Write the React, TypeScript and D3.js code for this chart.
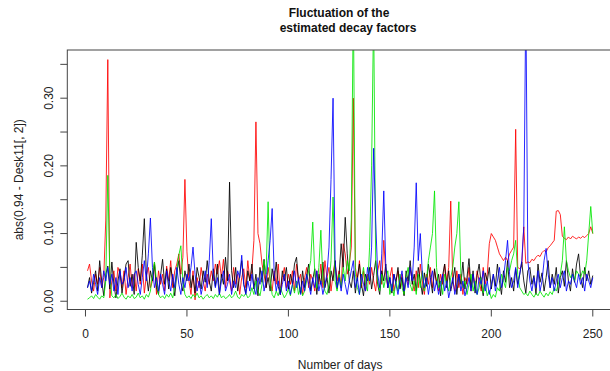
import React from 'react';
import * as d3 from 'd3';

const W = 610;
const H = 371;
// plot region (the right edge of the box sits outside the window)
const plot = { left: 67.3, top: 50, right: 613, bottom: 309.5 };

// values, day 1..250
const redVals = [
  0.045, 0.055, 0.03, 0.015, 0.04, 0.025, 0.05, 0.02, 0.035, 0.12,
  0.357, 0.005, 0.03, 0.045, 0.015, 0.05, 0.04, 0.02, 0.045, 0.01,
  0.035, 0.055, 0.02, 0.04, 0.015, 0.048, 0.025, 0.055, 0.012, 0.038,
  0.05, 0.02, 0.03, 0.058, 0.01, 0.045, 0.025, 0.04, 0.015, 0.052,
  0.03, 0.06, 0.02, 0.045, 0.055, 0.07, 0.04, 0.065, 0.18, 0.073,
  0.03, 0.01, 0.045, 0.002, 0.035, 0.02, 0.05, 0.03, 0.015, 0.04,
  0.025, 0.045, 0.03, 0.055, 0.04, 0.06, 0.035, 0.062, 0.02, 0.045,
  0.03, 0.015, 0.05, 0.025, 0.04, 0.01, 0.035, 0.048, 0.02, 0.06,
  0.03, 0.045, 0.09, 0.265, 0.1, 0.085, 0.055, 0.04, 0.02, 0.05,
  0.03, 0.015, 0.045, 0.025, 0.055, 0.01, 0.035, 0.05, 0.02, 0.04,
  0.025, 0.045, 0.015, 0.055, 0.03, 0.04, 0.01, 0.035, 0.05, 0.02,
  0.04, 0.03, 0.015, 0.045, 0.025, 0.055, 0.02, 0.06, 0.035, 0.05,
  0.015, 0.04, 0.06, 0.03, 0.045, 0.02, 0.085, 0.07, 0.04, 0.055,
  0.08, 0.3, 0.05, 0.03, 0.06, 0.02, 0.045, 0.015, 0.04, 0.025,
  0.05, 0.03, 0.015, 0.045, 0.06, 0.025, 0.09, 0.04, 0.02, 0.035,
  0.05, 0.015, 0.03, 0.045, 0.02, 0.04, 0.01, 0.035, 0.025, 0.05,
  0.03, 0.015, 0.045, 0.02, 0.055, 0.03, 0.01, 0.04, 0.025, 0.05,
  0.02, 0.045, 0.03, 0.015, 0.04, 0.025, 0.055, 0.03, 0.05, 0.148,
  0.03, 0.015, 0.045, 0.02, 0.04, 0.01, 0.035, 0.025, 0.05, 0.015,
  0.04, 0.02, 0.045, 0.03, 0.015, 0.05, 0.025, 0.04, 0.085, 0.1,
  0.095, 0.09, 0.08, 0.07, 0.065, 0.06, 0.065, 0.06, 0.07, 0.075,
  0.08, 0.254, 0.05, 0.048, 0.052, 0.11, 0.056, 0.058, 0.057, 0.062,
  0.06, 0.065, 0.068, 0.066, 0.072, 0.075, 0.073, 0.079, 0.082, 0.086,
  0.09, 0.133, 0.134, 0.128, 0.096, 0.093, 0.091, 0.095, 0.092, 0.096,
  0.094, 0.092, 0.095, 0.093, 0.096, 0.094, 0.097, 0.1, 0.11, 0.1,
];

const blackVals = [
  0.02, 0.035, 0.012, 0.028, 0.045, 0.015, 0.06, 0.03, 0.008, 0.04,
  0.052, 0.018, 0.058, 0.025, 0.005, 0.03, 0.048, 0.012, 0.035, 0.055,
  0.06, 0.022, 0.04, 0.01, 0.087, 0.05, 0.03, 0.068, 0.122, 0.04,
  0.015, 0.045, 0.03, 0.055, 0.02, 0.01, 0.038, 0.062, 0.025, 0.048,
  0.018, 0.05, 0.032, 0.008, 0.042, 0.06, 0.028, 0.015, 0.045, 0.03,
  0.055, 0.02, 0.038, 0.012, 0.05, 0.035, 0.018, 0.045, 0.028, 0.06,
  0.03, 0.015, 0.048, 0.022, 0.055, 0.01, 0.04, 0.025, 0.065, 0.03,
  0.176, 0.045, 0.02, 0.05, 0.015, 0.038, 0.06, 0.025, 0.012, 0.045,
  0.03, 0.055, 0.018, 0.04, 0.008, 0.05, 0.028, 0.062, 0.02, 0.035,
  0.015, 0.048, 0.03, 0.058, 0.022, 0.01, 0.045, 0.03, 0.05, 0.018,
  0.04, 0.025, 0.055, 0.065, 0.03, 0.012, 0.045, 0.02, 0.038, 0.055,
  0.015, 0.032, 0.048, 0.01, 0.04, 0.025, 0.058, 0.02, 0.035, 0.012,
  0.045, 0.03, 0.06, 0.018, 0.04, 0.085, 0.05, 0.124, 0.07, 0.03,
  0.02, 0.045, 0.012, 0.035, 0.055, 0.025, 0.008, 0.04, 0.03, 0.05,
  0.018, 0.038, 0.06, 0.025, 0.01, 0.045, 0.03, 0.055, 0.02, 0.035,
  0.012, 0.04, 0.028, 0.05, 0.018, 0.035, 0.008, 0.045, 0.03, 0.06,
  0.025, 0.04, 0.015, 0.05, 0.03, 0.01, 0.042, 0.022, 0.055, 0.035,
  0.012, 0.048, 0.025, 0.04, 0.008, 0.038, 0.055, 0.02, 0.045, 0.015,
  0.03, 0.05, 0.01, 0.04, 0.025, 0.058, 0.018, 0.035, 0.063, 0.02,
  0.045, 0.012, 0.038, 0.055, 0.025, 0.008, 0.042, 0.03, 0.05, 0.018,
  0.04, 0.022, 0.055, 0.03, 0.01, 0.045, 0.028, 0.06, 0.02, 0.035,
  0.015, 0.048, 0.025, 0.04, 0.058, 0.03, 0.012, 0.045, 0.05, 0.025,
  0.038, 0.01, 0.055, 0.028, 0.042, 0.015, 0.035, 0.06, 0.02, 0.04,
  0.025, 0.05, 0.012, 0.035, 0.045, 0.022, 0.06, 0.03, 0.015, 0.048,
  0.028, 0.055, 0.07, 0.035, 0.02, 0.05, 0.03, 0.045, 0.025, 0.038,
];

const greenVals = [
  0.003, 0.005, 0.008, 0.004, 0.01, 0.006, 0.003, 0.008, 0.005, 0.03,
  0.186, 0.04, 0.008, 0.005, 0.01, 0.004, 0.007, 0.012, 0.006, 0.003,
  0.008, 0.005, 0.01, 0.004, 0.006, 0.012, 0.005, 0.008, 0.003, 0.01,
  0.006, 0.015, 0.04, 0.058, 0.03, 0.01, 0.005, 0.008, 0.004, 0.01,
  0.006, 0.012, 0.005, 0.02, 0.045, 0.068, 0.082, 0.03, 0.01, 0.005,
  0.008, 0.004, 0.01, 0.006, 0.012, 0.005, 0.008, 0.003, 0.007, 0.01,
  0.005, 0.008, 0.004, 0.01, 0.006, 0.012, 0.005, 0.008, 0.004, 0.006,
  0.01, 0.005, 0.008, 0.015, 0.006, 0.004, 0.01, 0.007, 0.012, 0.005,
  0.008, 0.02, 0.01, 0.03, 0.015, 0.008, 0.025, 0.06, 0.04, 0.147,
  0.03, 0.01, 0.005, 0.015, 0.008, 0.02, 0.012, 0.005, 0.01, 0.018,
  0.008, 0.025, 0.012, 0.03, 0.01, 0.02, 0.008, 0.015, 0.03, 0.045,
  0.06, 0.117, 0.04, 0.02, 0.05, 0.105, 0.03, 0.015, 0.01, 0.025,
  0.06, 0.154, 0.03, 0.015, 0.04, 0.02, 0.05, 0.03, 0.06, 0.045,
  0.12, 0.45, 0.04, 0.02, 0.01, 0.03, 0.05, 0.025, 0.015, 0.08,
  0.2, 0.43, 0.06, 0.03, 0.015, 0.04, 0.02, 0.035, 0.045, 0.01,
  0.025, 0.008, 0.03, 0.015, 0.04, 0.02, 0.01, 0.035, 0.05, 0.025,
  0.015, 0.03, 0.01, 0.04, 0.02, 0.045, 0.015, 0.03, 0.06, 0.08,
  0.1, 0.163, 0.05, 0.02, 0.03, 0.01, 0.04, 0.025, 0.015, 0.035,
  0.05, 0.08, 0.1, 0.147, 0.04, 0.02, 0.03, 0.01, 0.025, 0.04,
  0.015, 0.03, 0.01, 0.02, 0.035, 0.012, 0.025, 0.008, 0.016, 0.004,
  0.01, 0.006, 0.02, 0.015, 0.04, 0.03, 0.02, 0.05, 0.045, 0.06,
  0.07, 0.09, 0.04, 0.02, 0.015, 0.01, 0.012, 0.008, 0.015, 0.01,
  0.006, 0.012, 0.008, 0.015, 0.01, 0.006, 0.012, 0.008, 0.014, 0.01,
  0.02, 0.015, 0.025, 0.04, 0.06, 0.11, 0.06, 0.045, 0.035, 0.04,
  0.03, 0.045, 0.04, 0.035, 0.045, 0.04, 0.06, 0.1, 0.14, 0.1,
];

const blueVals = [
  0.02, 0.03, 0.015, 0.04, 0.025, 0.01, 0.035, 0.02, 0.045, 0.03,
  0.05, 0.025, 0.04, 0.015, 0.035, 0.01, 0.045, 0.025, 0.03, 0.05,
  0.02, 0.035, 0.015, 0.04, 0.045, 0.025, 0.01, 0.035, 0.06, 0.03,
  0.07, 0.123, 0.05, 0.02, 0.035, 0.015, 0.04, 0.025, 0.01, 0.045,
  0.03, 0.015, 0.04, 0.02, 0.05, 0.025, 0.01, 0.035, 0.02, 0.04,
  0.03, 0.05, 0.08, 0.04, 0.015, 0.03, 0.01, 0.025, 0.045, 0.02,
  0.06, 0.122, 0.04, 0.02, 0.035, 0.01, 0.03, 0.045, 0.015, 0.025,
  0.04, 0.01, 0.03, 0.02, 0.045, 0.035, 0.068, 0.025, 0.01, 0.03,
  0.015, 0.04, 0.02, 0.01, 0.035, 0.025, 0.045, 0.015, 0.03, 0.06,
  0.09, 0.137, 0.04, 0.015, 0.03, 0.01, 0.025, 0.04, 0.015, 0.03,
  0.01, 0.025, 0.045, 0.02, 0.035, 0.01, 0.03, 0.015, 0.04, 0.025,
  0.01, 0.035, 0.02, 0.045, 0.015, 0.03, 0.01, 0.025, 0.04, 0.08,
  0.18, 0.3, 0.06, 0.02, 0.035, 0.015, 0.04, 0.025, 0.01, 0.03,
  0.045, 0.06, 0.02, 0.035, 0.01, 0.04, 0.025, 0.015, 0.05, 0.03,
  0.08, 0.226, 0.12, 0.04, 0.02, 0.07, 0.163, 0.05, 0.02, 0.035,
  0.015, 0.04, 0.025, 0.01, 0.03, 0.045, 0.015, 0.035, 0.02, 0.05,
  0.03, 0.08, 0.175, 0.06, 0.1, 0.04, 0.02, 0.035, 0.01, 0.03,
  0.045, 0.015, 0.03, 0.01, 0.025, 0.04, 0.015, 0.03, 0.005, 0.02,
  0.035, 0.01, 0.025, 0.04, 0.015, 0.03, 0.008, 0.02, 0.035, 0.015,
  0.04, 0.02, 0.01, 0.035, 0.025, 0.045, 0.015, 0.03, 0.01, 0.025,
  0.04, 0.015, 0.03, 0.05, 0.02, 0.035, 0.06, 0.09, 0.04, 0.02,
  0.03, 0.05, 0.02, 0.04, 0.06, 0.11, 0.45, 0.06, 0.03, 0.015,
  0.035, 0.02, 0.045, 0.015, 0.03, 0.06, 0.078, 0.04, 0.02, 0.035,
  0.015, 0.03, 0.04, 0.02, 0.035, 0.045, 0.015, 0.03, 0.025, 0.04,
  0.03, 0.02, 0.04, 0.025, 0.035, 0.015, 0.04, 0.03, 0.02, 0.035,
];

const xTicks = [0, 50, 100, 150, 200, 250];
const yTicks = [0, 0.05, 0.1, 0.15, 0.2, 0.25, 0.3, 0.35];
const yLabelTicks = [0, 0.1, 0.2, 0.3];

const titleLines = ['Fluctuation of the', 'estimated decay factors'];
const xTitle = 'Number of days';
const yTitle = 'abs(0.94 - Desk11[, 2])';

// drawing order as in the R plot: red first, then the lines() calls
const series = [
  { key: 'red', values: redVals, color: '#ff0000' },
  { key: 'black', values: blackVals, color: '#000000' },
  { key: 'green', values: greenVals, color: '#00e600' },
  { key: 'blue', values: blueVals, color: '#0000ff' },
];

const font = 'Liberation Sans, Arial, Helvetica, sans-serif';

export default function App() {
  const n = redVals.length;
  // R's default 4% axis extension
  const xPad = (n - 1) * 0.04;
  const x = d3
    .scaleLinear()
    .domain([1 - xPad, n + xPad])
    .range([plot.left, plot.right]);

  const [ymin, ymax] = d3.extent(redVals) as [number, number];
  const yPad = (ymax - ymin) * 0.04;
  const y = d3
    .scaleLinear()
    .domain([ymin - yPad, ymax + yPad])
    .range([plot.bottom, plot.top]);

  const line = d3
    .line<number>()
    .x((_, i) => x(i + 1))
    .y((d) => y(d));

  const fmt = d3.format('.2f');

  return (
    <svg
      width={W}
      height={H}
      style={{ position: 'absolute', left: 0, top: 0, background: '#fff' }}
      fontFamily={font}
    >
      <defs>
        <clipPath id="plotClip">
          <rect
            x={plot.left}
            y={plot.top}
            width={plot.right - plot.left}
            height={plot.bottom - plot.top}
          />
        </clipPath>
      </defs>

      {/* title */}
      <text x={339} y={17} textAnchor="middle" fontSize={12} fontWeight="bold" fill="#111">
        {titleLines[0]}
      </text>
      <text x={348} y={32} textAnchor="middle" fontSize={12} fontWeight="bold" fill="#111">
        {titleLines[1]}
      </text>

      {/* series */}
      <g clipPath="url(#plotClip)">
        {series.map((s) => (
          <path
            key={s.key}
            d={line(s.values) || ''}
            fill="none"
            stroke={s.color}
            strokeWidth={0.85}
            strokeLinejoin="round"
          />
        ))}
      </g>

      {/* box */}
      <rect
        x={plot.left}
        y={plot.top}
        width={plot.right - plot.left}
        height={plot.bottom - plot.top}
        fill="none"
        stroke="#444"
        strokeWidth={1}
      />

      {/* x axis */}
      <g>
        {xTicks.map((t) => (
          <g key={t} transform={`translate(${x(t)},${plot.bottom})`}>
            <line y1={0} y2={7} stroke="#444" />
            <text y={28} textAnchor="middle" fontSize={12} fill="#222">
              {t}
            </text>
          </g>
        ))}
        <text
          x={(plot.left + plot.right) / 2}
          y={369}
          textAnchor="middle"
          fontSize={12}
          fill="#222"
        >
          {xTitle}
        </text>
      </g>

      {/* y axis */}
      <g>
        {yTicks.map((t) => (
          <line
            key={t}
            x1={plot.left}
            x2={plot.left - 7}
            y1={y(t)}
            y2={y(t)}
            stroke="#444"
          />
        ))}
        {yLabelTicks.map((t) => (
          <text
            key={t}
            transform={`translate(53,${y(t)}) rotate(-90)`}
            textAnchor="middle"
            fontSize={12}
            fill="#222"
          >
            {fmt(t)}
          </text>
        ))}
        <text
          transform={`translate(23,${(plot.top + plot.bottom) / 2}) rotate(-90)`}
          textAnchor="middle"
          fontSize={12}
          fill="#222"
        >
          {yTitle}
        </text>
      </g>
    </svg>
  );
}
